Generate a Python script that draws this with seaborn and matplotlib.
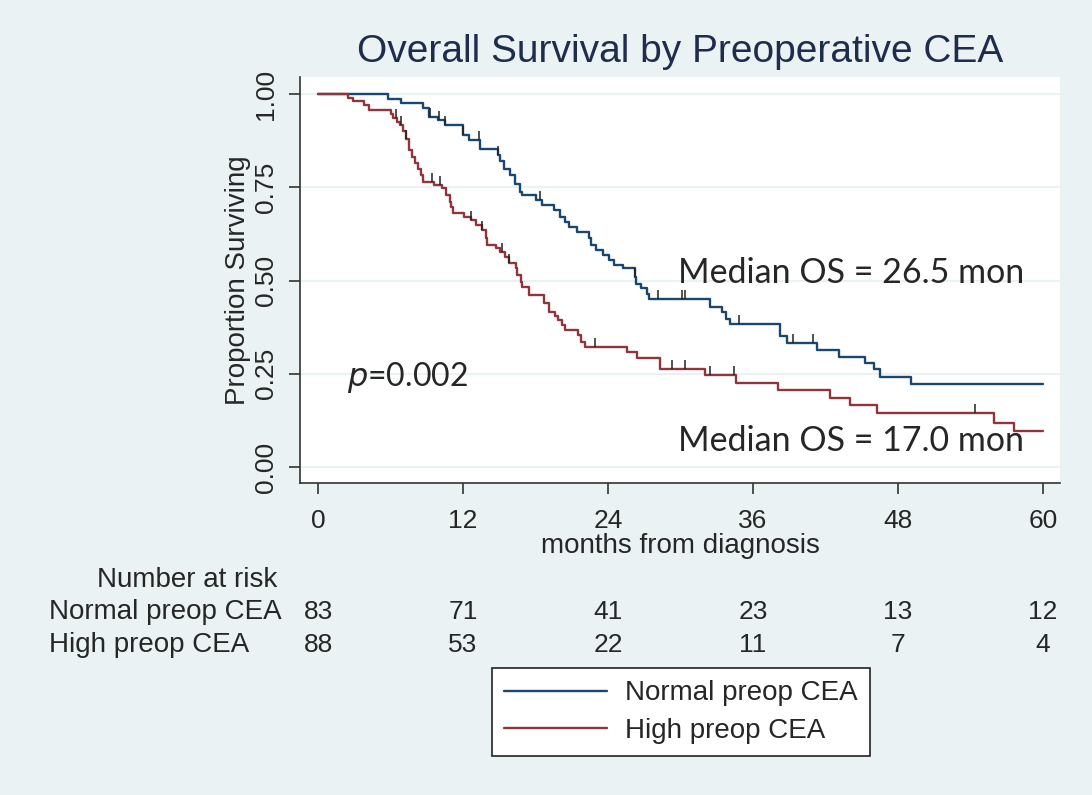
import numpy as np
import pandas as pd
import matplotlib
matplotlib.use("Agg")
import matplotlib.pyplot as plt
from matplotlib.lines import Line2D
from matplotlib.transforms import blended_transform_factory
import seaborn as sns

# Kaplan-Meier steps (month of drop, survival after drop)
normal_t = [5.8, 6.9, 8.7, 9.2, 9.9, 10.5, 12.0, 12.5, 13.4, 14.9, 15.1, 15.4,
            15.9, 16.3, 16.7, 16.9, 18.0, 18.5, 19.5, 20.0, 20.4, 20.8, 21.4,
            22.4, 22.6, 23.0, 23.6, 24.1, 24.5, 25.2, 26.2, 26.3, 26.7, 27.2,
            27.4, 32.4, 33.4, 33.8, 34.1, 38.2, 38.8, 41.3, 43.1, 45.3, 46.0,
            46.5, 49.1]
normal_s = [0.988, 0.976, 0.963, 0.939, 0.930, 0.917, 0.890, 0.877, 0.854,
            0.836, 0.82, 0.80, 0.783, 0.760, 0.738, 0.729, 0.716, 0.702, 0.689,
            0.671, 0.658, 0.644, 0.631, 0.613, 0.595, 0.582, 0.568, 0.555,
            0.542, 0.533, 0.510, 0.492, 0.479, 0.465, 0.450, 0.430, 0.416,
            0.398, 0.383, 0.351, 0.333, 0.315, 0.296, 0.278, 0.262, 0.242,
            0.2225]
normal_cens = [9.3, 10.0, 10.5, 12.0, 13.3, 14.9, 18.4, 26.2, 28.1, 30.1,
               30.4, 34.8, 39.3, 41.0]

high_t = [2.5, 2.9, 3.8, 4.2, 6.0, 6.2, 6.5, 6.8, 7.0, 7.3, 7.5, 7.75, 8.0,
          8.3, 8.55, 8.7, 9.6, 10.3, 10.6, 10.9, 11.0, 11.2, 12.1, 12.7, 13.1,
          13.6, 13.9, 14.0, 14.7, 15.1, 15.5, 15.8, 16.4, 16.5, 16.8, 16.9,
          17.5, 18.7, 19.1, 19.6, 19.9, 20.2, 20.4, 21.5, 21.8, 22.1, 25.6,
          26.4, 28.3, 32.0, 34.6, 38.1, 42.4, 44.0, 46.25, 55.9, 57.6]
high_s = [0.990, 0.982, 0.970, 0.957, 0.948, 0.935, 0.926, 0.917, 0.900,
          0.881, 0.850, 0.832, 0.815, 0.800, 0.783, 0.765, 0.756, 0.747, 0.729,
          0.711, 0.697, 0.680, 0.671, 0.662, 0.649, 0.635, 0.613, 0.595, 0.586,
          0.577, 0.564, 0.546, 0.533, 0.515, 0.497, 0.483, 0.461, 0.439, 0.416,
          0.405, 0.394, 0.380, 0.367, 0.354, 0.336, 0.322, 0.309, 0.291, 0.264,
          0.247, 0.224, 0.206, 0.184, 0.166, 0.144, 0.119, 0.0965]
high_cens = [6.45, 6.9, 7.3, 9.4, 10.1, 12.7, 13.6, 15.2, 15.8, 22.9, 29.3,
             30.4, 32.4, 34.4, 54.4]

groups = ["Normal preop CEA", "High preop CEA"]
colors = ["#1a476f", "#90353b"]
risk_months = [0, 12, 24, 36, 48, 60]
risk_normal = [83, 71, 41, 23, 13, 12]
risk_high = [88, 53, 22, 11, 7, 4]
end_month = 60

BG = "#eaf2f3"

sns.set_theme(style="white")
plt.rcParams["font.family"] = ["Liberation Sans", "DejaVu Sans"]

rows = []
curves = {}
for g, t, s in [(groups[0], normal_t, normal_s), (groups[1], high_t, high_s)]:
    tt = np.array([0] + t + [end_month], dtype=float)
    ss = np.array([1.0] + s + [s[-1]], dtype=float)
    curves[g] = (tt, ss)
    rows.append(pd.DataFrame({"month": tt, "surv": ss, "group": g}))
df = pd.concat(rows, ignore_index=True)

fig = plt.figure(figsize=(10.92, 7.95), dpi=100)
fig.patch.set_facecolor(BG)
ax = fig.add_axes([300 / 1092, 1 - 483 / 795, 760 / 1092, 406 / 795])
ax.set_facecolor("white")

sns.lineplot(data=df, x="month", y="surv", hue="group", palette=dict(zip(groups, colors)),
             estimator=None, sort=False, drawstyle="steps-post", lw=1.7,
             legend=False, ax=ax)

# censoring ticks
for g, cens in [(groups[0], normal_cens), (groups[1], high_cens)]:
    tt, ss = curves[g]
    idx = np.searchsorted(tt, cens, side="right") - 1
    ax.vlines(cens, ss[idx], ss[idx] + 0.024, color="#222222", lw=1.1, zorder=4)

ax.set_xlim(-1.49, 61.4)
ax.set_ylim(-0.043, 1.046)
ax.set_xticks(risk_months)
ax.set_yticks([0, 0.25, 0.5, 0.75, 1.0])
ax.set_yticklabels(["%.2f" % v for v in [0, 0.25, 0.5, 0.75, 1.0]], rotation=90, va="center")
ax.yaxis.grid(True, color=BG, lw=1.6)
ax.set_axisbelow(True)
for sp in ["top", "right"]:
    ax.spines[sp].set_visible(False)
for sp in ["left", "bottom"]:
    ax.spines[sp].set_color("#333333")
    ax.spines[sp].set_linewidth(1.2)
ax.tick_params(axis="both", direction="out", length=8, width=1.2, color="#333333",
               labelsize=19, pad=8, left=True, bottom=True)
ax.tick_params(axis="x", pad=11)
ax.set_xlabel("months from diagnosis", fontsize=20, labelpad=0)
ax.set_ylabel("Proportion Surviving", fontsize=20, labelpad=2)

fig.text(680 / 1092, 1 - 52 / 795, "Overall Survival by Preoperative CEA",
         ha="center", va="center", fontsize=28, color="#1f2d4d")

# annotations
ax.text(29.8, 0.52, "Median OS = 26.5 mon", fontsize=24.5, family="Lato", va="center")
ax.text(29.8, 0.07, "Median OS = 17.0 mon", fontsize=24.5, family="Lato", va="center")
ax.text(2.4, 0.241, "$\\it{p}$=0.002", fontsize=23, family="Lato", va="center")

# number at risk table
tr = blended_transform_factory(ax.transData, fig.transFigure)
fig.text(97 / 1092, 1 - 580 / 795, "Number at risk", fontsize=20, va="center")
fig.text(49 / 1092, 1 - 612 / 795, groups[0], fontsize=20, va="center")
fig.text(49 / 1092, 1 - 645 / 795, groups[1], fontsize=20, va="center")
for m, a, b in zip(risk_months, risk_normal, risk_high):
    ax.text(m, 1 - 612 / 795, str(a), transform=tr, ha="center", va="center", fontsize=19)
    ax.text(m, 1 - 645 / 795, str(b), transform=tr, ha="center", va="center", fontsize=19)

handles = [Line2D([], [], color=c, lw=1.7) for c in colors]
leg = fig.legend(handles, groups, loc="center", bbox_to_anchor=(681 / 1092, 1 - 712 / 795),
                 fontsize=20, frameon=True, fancybox=False, framealpha=1,
                 edgecolor="#222222", facecolor="white", handlelength=3.7,
                 handletextpad=0.65, labelspacing=0.4, borderpad=0.45)
leg.get_frame().set_linewidth(1.2)

fig.savefig("out.png", dpi=100, facecolor=BG)
